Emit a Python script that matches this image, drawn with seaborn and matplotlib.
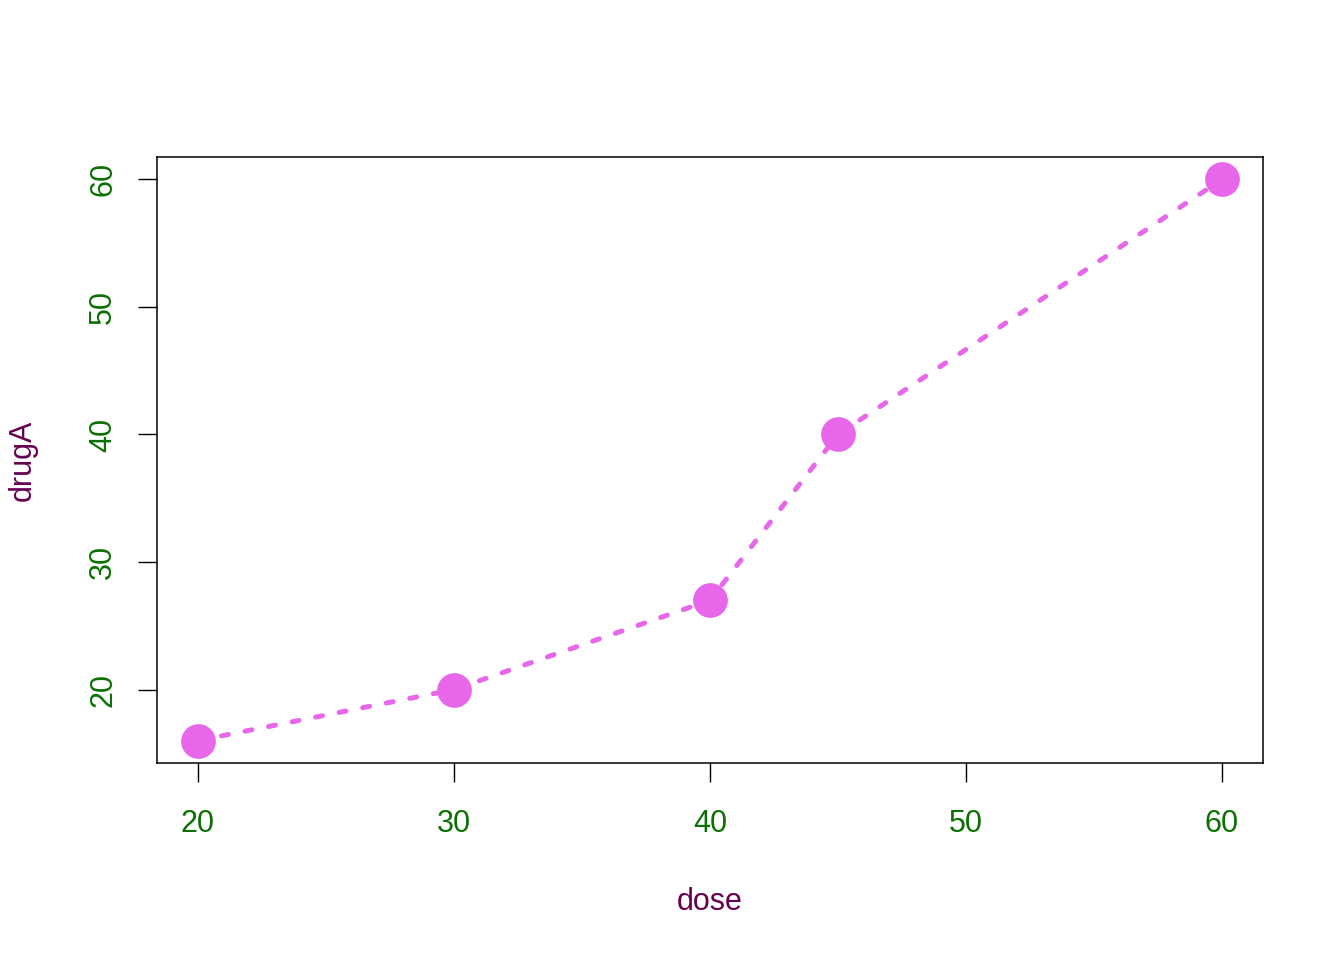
import numpy as np
import pandas as pd
import matplotlib
matplotlib.use('Agg')
import matplotlib.pyplot as plt
import seaborn as sns

dose = [20, 30, 40, 45, 60]
drugA = [16, 20, 27, 40, 60]
x_ticks = [20, 30, 40, 50, 60]
y_ticks = [20, 30, 40, 50, 60]

point_color = "#E766EA"
tick_color = "#0A7000"
label_color = "#660050"

sns.set_style("white")
plt.rcParams['font.family'] = ['Liberation Sans', 'DejaVu Sans']

df = pd.DataFrame({"dose": dose, "drugA": drugA})

fig = plt.figure(figsize=(13.44, 9.6), dpi=100)
ax = fig.add_axes([0.1168, 0.2052, 0.8229, 0.6313])

sns.lineplot(data=df, x="dose", y="drugA", ax=ax, color=point_color,
             linewidth=3.6, linestyle=(0, (1.4, 3.4)), dash_capstyle='round',
             marker="o", markersize=25, markeredgewidth=0,
             markerfacecolor=point_color)

ax.set_xlim(18.4, 61.6)
ax.set_ylim(14.24, 61.76)
ax.set_xticks(x_ticks)
ax.set_yticks(y_ticks)
ax.set_xticklabels([str(v) for v in x_ticks], color=tick_color, fontsize=22)
ax.set_yticklabels([str(v) for v in y_ticks], color=tick_color, fontsize=22,
                   rotation=90, va='center')
ax.tick_params(axis='both', direction='out', length=14, width=1, color='black',
               bottom=True, left=True)
ax.tick_params(axis='x', pad=19)
ax.tick_params(axis='y', pad=14)

for sp in ax.spines.values():
    sp.set_visible(True)
    sp.set_color('black')
    sp.set_linewidth(1.1)

ax.set_xlabel("dose", color=label_color, fontsize=22, labelpad=35)
ax.set_ylabel("drugA", color=label_color, fontsize=22, labelpad=36)

fig.savefig("out.png", dpi=100)
